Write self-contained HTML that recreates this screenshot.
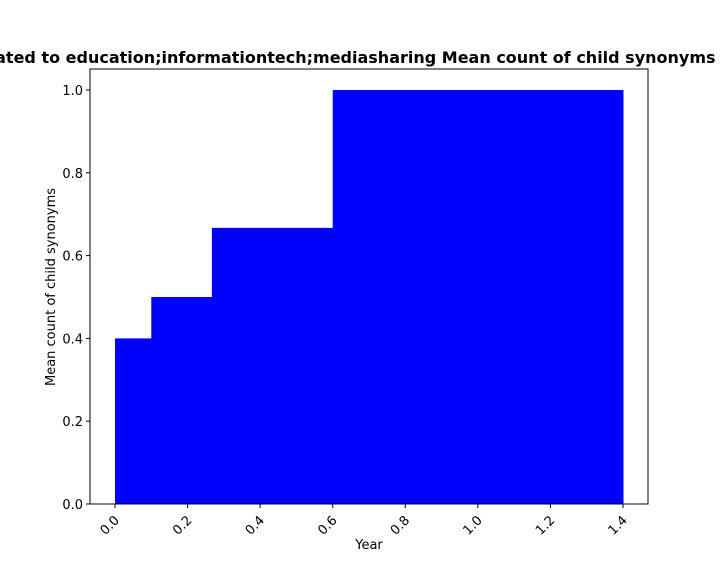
<!DOCTYPE html>
<html><head><meta charset="utf-8"><style>body{margin:0;background:#fff}svg{display:block;font-family:"DejaVu Sans","Liberation Sans",sans-serif}</style></head>
<body>
<svg id="chart" width="720" height="576" xmlns="http://www.w3.org/2000/svg"></svg>
<script>
const edges = [0, 0.1, 0.267, 0.6, 1.4];
const values = [0.4, 0.5, 0.667, 1.0];
const xTicks = [0.0, 0.2, 0.4, 0.6, 0.8, 1.0, 1.2, 1.4];
const yTicks = [0.0, 0.2, 0.4, 0.6, 0.8, 1.0];
const svg = document.getElementById('chart');
const NS = 'http://www.w3.org/2000/svg';
const L = 90, R = 648, T = 69, B = 504;
const x = v => 115 + v * (623 - 115) / 1.4;
const y = v => 504 - v * (504 - 90);
function mk(tag, attrs, parent) { const e = document.createElementNS(NS, tag); for (const k in attrs) e.setAttribute(k, attrs[k]); (parent || svg).appendChild(e); return e; }
const g = mk('g', {});


for (let i = 0; i < values.length; i++) {
  const r = mk('rect', { x: x(edges[i]), y: y(values[i]), width: x(edges[i + 1]) - x(edges[i]) + 0.5, height: y(0) - y(values[i]), fill: '#0000ff' }, g);
  
  
}
const frame = mk('rect', { x: L, y: T, width: R - L, height: B - T, fill: 'none', stroke: '#000', 'stroke-width': 1 });


xTicks.forEach(t => {
  const px = x(t);
  mk('line', { x1: px, x2: px, y1: B, y2: B + 4, stroke: '#000' });
  const tx = mk('text', { x: px + 5, y: B + 17, 'font-size': 13, 'text-anchor': 'end', transform: `rotate(-45 ${px + 5} ${B + 17})` });
  tx.textContent = t.toFixed(1);
  
  
});
yTicks.forEach(t => {
  const py = y(t);
  mk('line', { x1: L - 4, x2: L, y1: py, y2: py, stroke: '#000' });
  const tx = mk('text', { x: L - 7, y: py + 5, 'font-size': 13, 'text-anchor': 'end' });
  tx.textContent = t.toFixed(1);
  
  
});
const xl = mk('text', { x: 369, y: 549, 'font-size': 13, 'text-anchor': 'middle' });
xl.textContent = 'Year';


const yl = mk('text', { x: 55, y: 287, 'font-size': 13, 'text-anchor': 'middle', transform: 'rotate(-90 55 287)' });
yl.textContent = 'Mean count of child synonyms';


const title = mk('text', { x: 341, y: 63, 'font-size': 16, 'font-weight': 'bold', 'text-anchor': 'middle' });
title.textContent = 'Related to education;informationtech;mediasharing Mean count of child synonyms';


</script>
</body></html>
